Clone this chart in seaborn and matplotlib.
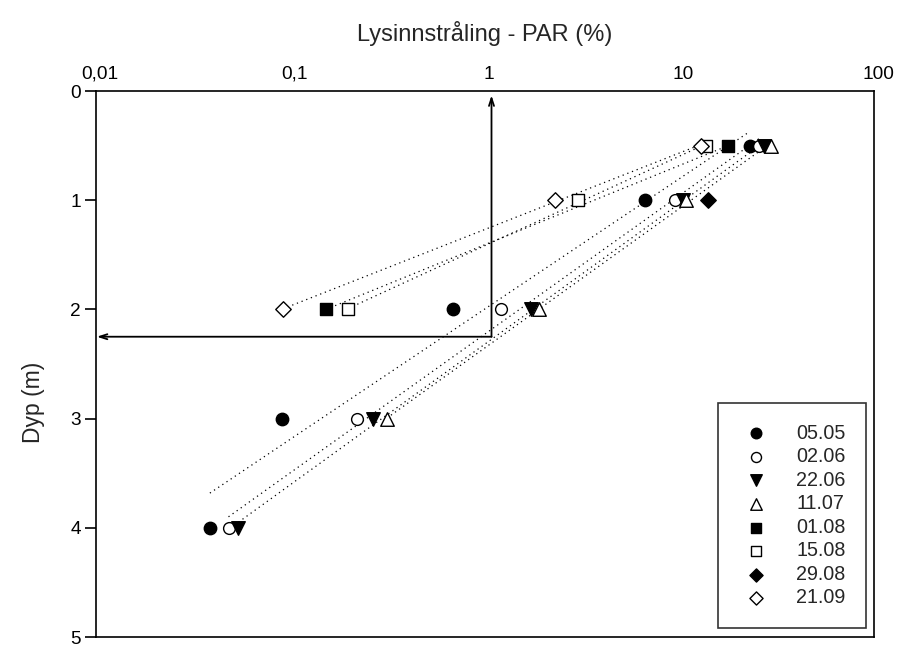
import numpy as np
import pandas as pd
import matplotlib
matplotlib.use("Agg")
import matplotlib.pyplot as plt
import matplotlib.transforms as mtransforms
import seaborn as sns

# Light penetration (PAR, % of surface) measured at depth on each sampling date
dates = ["05.05", "02.06", "22.06", "11.07", "01.08", "15.08", "29.08", "21.09"]

depth_0505 = [0.5, 1, 2, 3, 4]
par_0505 = [23.0, 6.65, 0.684, 0.090, 0.0385]

depth_0206 = [0.5, 1, 2, 3, 4]
par_0206 = [25.6, 9.5, 1.21, 0.22, 0.048]

depth_2206 = [0.5, 1, 2, 3, 4]
par_2206 = [27.2, 10.4, 1.72, 0.265, 0.054]

depth_1107 = [0.5, 1, 2, 3]
par_1107 = [29.5, 10.8, 1.90, 0.313]

depth_0108 = [0.5, 2]
par_0108 = [17.8, 0.152]

depth_1508 = [0.5, 1, 2]
par_1508 = [13.7, 3.0, 0.198]

depth_2908 = [1]
par_2908 = [14.0]

depth_2109 = [0.5, 1, 2]
par_2109 = [12.9, 2.29, 0.0914]

# 1 % light level and the corresponding depth
light_limit = 1.08
limit_depth = 2.25

x_ticks = [0.01, 0.1, 1, 10, 100]
x_tick_labels = ["0,01", "0,1", "1", "10", "100"]
y_ticks = [0, 1, 2, 3, 4, 5]

depths = [depth_0505, depth_0206, depth_2206, depth_1107,
          depth_0108, depth_1508, depth_2908, depth_2109]
pars = [par_0505, par_0206, par_2206, par_1107,
        par_0108, par_1508, par_2908, par_2109]

df = pd.concat(
    [pd.DataFrame({"dato": d, "dyp": dep, "par": p})
     for d, dep, p in zip(dates, depths, pars)],
    ignore_index=True,
)

# marker, face colour, size for each date
styles = {
    "05.05": ("o", "black", 80),
    "02.06": ("o", "white", 72),
    "22.06": ("v", "black", 95),
    "11.07": ("^", "white", 95),
    "01.08": ("s", "black", 72),
    "15.08": ("s", "white", 72),
    "29.08": ("D", "black", 62),
    "21.09": ("D", "white", 62),
}

sns.set_style("white")
plt.rcParams["font.family"] = ["Liberation Sans", "DejaVu Sans"]

fig = plt.figure(figsize=(9.04, 6.46), dpi=100)
ax = fig.add_axes([0.1062, 0.0139, 0.8606, 0.8452])
ax.set_xscale("log")

# dotted regression lines: depth against log(PAR)
for d in dates:
    sub = df[df["dato"] == d]
    if len(sub) < 2:
        continue
    sns.regplot(data=sub, x="par", y="dyp", logx=True, ci=None, scatter=False,
                ax=ax, color="black",
                line_kws=dict(lw=0.9, ls=(0, (1, 3.0)), zorder=2))

for i, d in enumerate(dates):
    sub = df[df["dato"] == d]
    m, fc, s = styles[d]
    sns.scatterplot(data=sub, x="par", y="dyp", marker=m, s=s, color=fc,
                    edgecolor="black", linewidth=1.0, label=d, ax=ax,
                    zorder=3 + i)

# arrows marking the 1 % light depth
arrow_kw = dict(arrowstyle="->,head_length=0.55,head_width=0.18",
                color="black", lw=1.3, shrinkA=0, shrinkB=0)
ax.annotate("", xy=(light_limit, 0.04), xytext=(light_limit, limit_depth),
            arrowprops=arrow_kw, zorder=2)
ax.annotate("", xy=(0.0101, limit_depth), xytext=(light_limit, limit_depth),
            arrowprops=arrow_kw, zorder=2)

ax.set_xlim(0.01, 100)
ax.set_ylim(5, 0)

ax.xaxis.tick_top()
ax.xaxis.set_label_position("top")
ax.set_xticks(x_ticks)
ax.set_xticklabels(x_tick_labels)
ax.xaxis.set_minor_locator(matplotlib.ticker.NullLocator())
ax.tick_params(axis="x", which="both", length=0, pad=6, labelsize=13.7,
               colors="black")
ax.set_yticks(y_ticks)
ax.tick_params(axis="y", direction="out", length=8, width=1.2, pad=3,
               labelsize=13.7, left=True, colors="black")

shift = mtransforms.ScaledTranslation(4 / 100, 0, fig.dpi_scale_trans)
for lab in ax.get_xticklabels():
    lab.set_transform(lab.get_transform() + shift)

ax.set_xlabel("Lysinnstråling - PAR (%)", fontsize=17, labelpad=18)
ax.set_ylabel("Dyp (m)", fontsize=16.5)
ax.yaxis.set_label_coords(-0.066, 0.43)

for sp in ax.spines.values():
    sp.set_color("black")
    sp.set_linewidth(1.2)
    sp.set_visible(True)

leg = ax.legend(loc="lower right", bbox_to_anchor=(0.99, 0.0165),
                borderaxespad=0, fontsize=14.2, frameon=True, fancybox=False,
                edgecolor="black", borderpad=1.05, labelspacing=0.23,
                handlelength=1.75, handletextpad=1.15, markerscale=0.85)
leg.get_frame().set_linewidth(1.2)
leg.set_zorder(20)

fig.savefig("out.png", dpi=100)
